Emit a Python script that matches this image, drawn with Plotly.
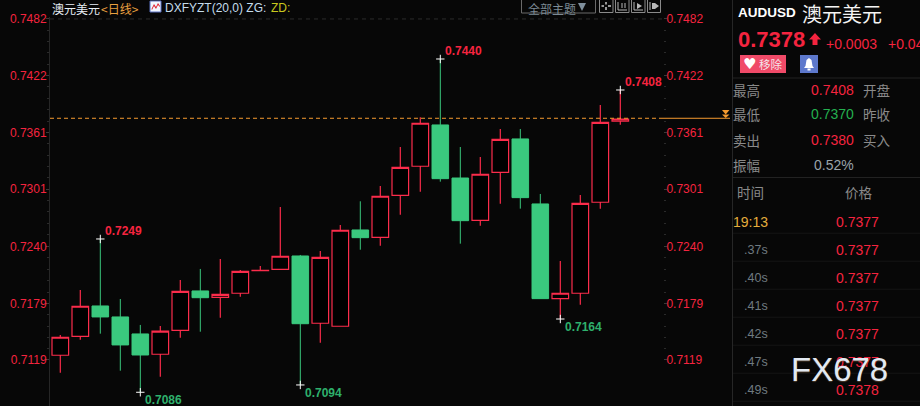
import plotly.graph_objects as go
import numpy as np

# ---- data ----
opens  = [0.71240,0.71442,0.71765,0.71648,0.71467,0.71251,0.71506,0.71925,0.71857,0.71900,0.72141,0.72155,0.72297,0.71581,0.71549,
          0.72574,0.72496,0.72943,0.73252,0.73692,0.73127,0.72677,0.73188,0.73543,0.72851,0.71843,0.71900,0.72869,0.73731]
closes = [0.71432,0.71762,0.71648,0.71350,0.71243,0.71496,0.71921,0.71853,0.71889,0.72134,0.72145,0.72294,0.71576,0.72283,0.72571,
          0.72492,0.72933,0.73241,0.73710,0.73120,0.72673,0.73167,0.73539,0.72918,0.71843,0.71900,0.72858,0.73720,0.73755]
highs  = [0.71456,0.71935,0.72478,0.71839,0.71563,0.71552,0.72042,0.72159,0.72265,0.72148,0.72191,0.72819,0.72308,0.72350,0.72627,
          0.72879,0.73042,0.73457,0.73774,0.74394,0.73457,0.73351,0.73649,0.73649,0.72957,0.72244,0.72946,0.73905,0.74064]
lows   = [0.71055,0.71406,0.71470,0.71076,0.70846,0.71012,0.71427,0.71491,0.71640,0.71864,0.72141,0.72155,0.70924,0.71374,0.71549,
          0.72364,0.72407,0.72737,0.72982,0.73088,0.72428,0.72620,0.72854,0.72801,0.71843,0.71626,0.71779,0.72801,0.73695]
tick_vals = [0.7482,0.7422,0.7361,0.7301,0.7240,0.7179,0.7119]
tick_text = ["0.7482","0.7422","0.7361","0.7301","0.7240","0.7179","0.7119"]
current_price = 0.73763
extremes = [(2,0.72478,"0.7249","up"),(4,0.70846,"0.7086","down"),(12,0.70924,"0.7094","down"),
            (19,0.74394,"0.7440","up"),(25,0.71626,"0.7164","down"),(28,0.74064,"0.7408","up")]
stats = [("最高","0.7408","开盘","r"),("最低","0.7370","昨收","g"),("卖出","0.7380","买入","r"),("振幅","0.52%","","n")]
tape_times = ["19:13",".37s",".40s",".41s",".42s",".47s",".49s"]
tape_prices = ["0.7377","0.7377","0.7377","0.7377","0.7377","0.7377","0.7378"]

# ---- styling ----
W,H = 920,406
ML,MR,MT,MB = 50,257,17,0
BG="#070707"; RED="#f5243f"; CANDLE_RED="#fb2c4b"; GREEN="#3ac97e"; LBL_GREEN="#2eb06c"; GRAY="#8a8a8a"; ORANGE="#f59a2f"
LAT="Liberation Sans"; CJK="Noto Sans CJK SC"
def px(x): return (x-ML)/(W-ML-MR)
def py(y): return (H-MB-y)/(H-MT-MB)
n=len(opens)
xs=list(range(n))

fig=go.Figure()
fig.add_trace(go.Candlestick(x=xs,open=opens,high=highs,low=lows,close=closes,hoverinfo="skip",whiskerwidth=0,
    increasing=dict(line=dict(color=CANDLE_RED,width=1.2),fillcolor="#000000"),
    decreasing=dict(line=dict(color=GREEN,width=1),fillcolor=GREEN),showlegend=False))
fig.add_trace(go.Scatter(x=xs,y=closes,yaxis="y2",mode="lines",line=dict(width=0),opacity=0,hoverinfo="skip",showlegend=False))
fig.add_trace(go.Scatter(x=[e[0] for e in extremes],y=[e[1] for e in extremes],mode="markers",hoverinfo="skip",showlegend=False,
    marker=dict(symbol="cross-thin",size=6,line=dict(color="#ffffff",width=1))))

ann=[]
def T(x,y,t,color="#ffffff",size=13,fam=LAT,anchor="left",bold=False,**kw):
    ax = x-1 if anchor=="left" else (x+1 if anchor=="right" else x)
    ann.append(dict(x=px(ax),y=py(y),xref="paper",yref="paper",text=("<b>%s</b>"%t if bold else t),showarrow=False,
        xanchor=anchor,yanchor="middle",font=dict(color=color,size=size,family=fam),borderpad=0,**kw))
shapes=[]
def L(x0,y0,x1,y1,color,w=1,dash="solid"):
    shapes.append(dict(type="line",xref="paper",yref="paper",x0=px(x0),y0=py(y0),x1=px(x1),y1=py(y1),line=dict(color=color,width=w,dash=dash)))
def R(x0,y0,x1,y1,fill=None,line=None,w=1):
    shapes.append(dict(type="rect",xref="paper",yref="paper",x0=px(x0),y0=py(y0),x1=px(x1),y1=py(y1),
        fillcolor=fill or "rgba(0,0,0,0)",line=dict(color=line or "rgba(0,0,0,0)",width=w if line else 0)))
def P(pts,fill):
    d="M "+" L ".join(f"{px(a):.5f} {py(b):.5f}" for a,b in pts)+" Z"
    shapes.append(dict(type="path",xref="paper",yref="paper",path=d,fillcolor=fill,line=dict(width=0)))

for i,(idx,p,t,k) in enumerate(extremes):
    up=k=="up"
    ann.append(dict(x=idx,y=p,xref="x",yref="y",text="<b>%s</b>"%t,showarrow=False,xanchor="left",yanchor="middle",
        xshift=3,yshift=8 if up else -8,font=dict(color=RED if up else LBL_GREEN,size=12,family=LAT)))

shapes.append(dict(type="line",xref="paper",yref="y",x0=0,x1=1,y0=tick_vals[0],y1=tick_vals[0],line=dict(color="#2c2c2c",width=1,dash="4px,4px")))
shapes.append(dict(type="line",xref="paper",yref="y",x0=0,x1=1,y0=current_price,y1=current_price,line=dict(color=ORANGE,width=1,dash="4px,3px")))
shapes.append(dict(type="line",xref="paper",yref="y",x0=1,x1=px(730),y0=current_price,y1=current_price,line=dict(color=ORANGE,width=1)))
P([(722,110),(729.5,110),(725.7,114.5)],ORANGE)
P([(722,114.5),(729.5,114.5),(725.7,118)],ORANGE)

# header
T(52,8,"澳元美元","#e8eef5",12,CJK)
T(101,8,"&lt;日线&gt;","#e8a040",12,CJK)
R(150,1,161,12,"#f2f6ff","#5a70c0",1)
P([(151.5,9),(154,4),(156,7),(158,3),(160,6),(160,7),(158,5),(156,9),(154,6),(152,10)],"#e02030")
T(165,8,"DXFYZT(20,0) ZG:","#c4dcec",12)
T(271,8,"ZD:","#c8c81e",12)
R(521.5,-1,595.5,13,None,"#6a6a6a",1)
T(528,8,"全部主题","#7c8a94",12,CJK)
P([(578,3),(586,3),(582,11)],"#7f8f9c")
for a,b in [(599.5,613),(615.5,629),(631.5,645),(647.5,660.5)]:
    R(a,-1,b,12.5,None,"#8a8a8a",1)
L(606,2,606,4.5,"#c8c8c8",1.5); L(606,7,606,10,"#c8c8c8",1.5); L(601.5,6,604,6,"#c8c8c8",1.5); L(608,6,611,6,"#c8c8c8",1.5)
L(618,2,618,10,"#b8b8b8"); L(618,10,627,10,"#b8b8b8"); L(622,3,622,8,"#b8b8b8"); L(625,3,625,8,"#b8b8b8")
L(634,2,634,10,"#b8b8b8"); L(634,10,643,10,"#b8b8b8"); P([(637,3),(637,9),(642,6)],"#b8b8b8")
L(650,2,650,10,"#b8b8b8"); R(652,3,655,9,"#b8b8b8"); P([(655,3),(655,9),(659,6)],"#b8b8b8")

# right panel
L(732.5,0,732.5,H,"#262626")
L(733,78,W,78,"#222222"); L(733,177.5,W,177.5,"#222222")
T(738,12.5,"AUDUSD","#ffffff",13.5,bold=True)
T(802,13.5,"澳元美元","#f4f4f4",20,CJK)
T(738,39,"0.7378",RED,22,bold=True)
P([(815,33),(821,39.5),(817.5,39.5),(817.5,45),(812.5,45),(812.5,39.5),(809,39.5)],RED)
T(826,44,"+0.0003",RED,14)
T(888,44,"+0.04",RED,14)
R(740,55,786,73,"#f04a68")
T(749,64,"♥","#ffffff",15,"DejaVu Sans",anchor="center")
T(759,64,"移除","#f4e4e8",11.5,CJK)
R(800,55,818,73,"#5d78cc")
P([(809,58),(811.5,60),(812.5,66),(814,68),(804,68),(805.5,66),(806.5,60)],"#ffffff")
R(807.5,68.5,810.5,70.5,"#ffffff")
for i,(a,v,b,c) in enumerate(stats):
    y=89.5+25*i
    T(733,y,a,GRAY,13.5,CJK)
    T(854,y,v,{"r":RED,"g":"#24b04f","n":"#9aa4aa"}[c],14,anchor="right")
    if b: T(863,y,b,GRAY,13.5,CJK)
T(737,192,"时间",GRAY,13.5,CJK)
T(845,192,"价格",GRAY,13.5,CJK)
for i,(a,v) in enumerate(zip(tape_times,tape_prices)):
    y=221.7+28*i
    if i==0:
        T(733,y,a,"#e5ad3c",14)
    else:
        T(768,y,a,"#6f7a80",12.5,anchor="right")
    T(836,y,v,RED,14)
    L(733,y+11.5,W,y+11.5,"#151515")
T(791,369,"FX678","#e2e9f2",33,LAT)
ann[-1]["font"]["shadow"]="0px 1px 1px rgba(120,90,60,0.6)"

minor_vals=[float(v) for a,b in zip(tick_vals[:-1],tick_vals[1:]) for v in np.linspace(a,b,6)[1:-1]]
yr=[0.70700,0.74841]
def yax(**kw):
    return dict(range=yr,tickmode="array",tickvals=tick_vals,ticktext=tick_text,ticks="outside",ticklen=3,tickcolor="#3a3a3a",tickwidth=1,
        showgrid=False,zeroline=False,tickfont=dict(color=RED,size=12,family=LAT),ticklabelstandoff=-3,
        minor=dict(tickmode="array",tickvals=minor_vals,ticks="outside",ticklen=2,tickcolor="#2a2a2a",showgrid=False),**kw)
fig.update_layout(width=W,height=H,autosize=False,margin=dict(l=ML,r=MR,t=MT,b=MB,pad=0),paper_bgcolor=BG,plot_bgcolor=BG,
    showlegend=False,hovermode=False,boxgap=0.17,boxgroupgap=0,
    xaxis=dict(range=[-0.515,30.135],visible=False,rangeslider=dict(visible=False),fixedrange=True),
    yaxis=yax(side="left",showline=True,linecolor="#262626",linewidth=1,fixedrange=True),
    yaxis2=yax(side="right",overlaying="y",showline=False,anchor="x",fixedrange=True),
    annotations=ann,shapes=shapes)
fig.write_html("out.html",config=dict(displayModeBar=False),post_script="document.body.style.margin='0';document.body.style.background='%s';document.documentElement.style.overflow='hidden';"%BG)
